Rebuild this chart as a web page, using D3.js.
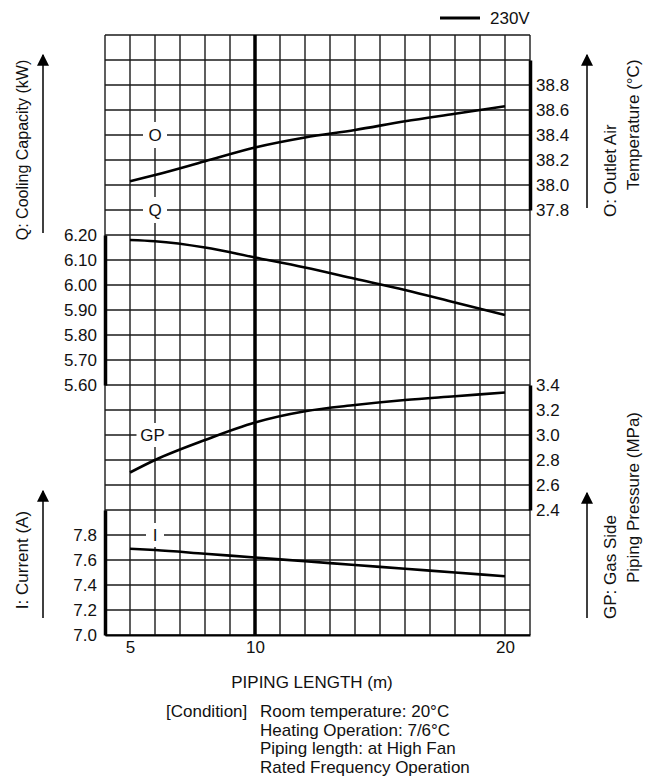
<!DOCTYPE html>
<html>
<head>
<meta charset="utf-8">
<script src="https://cdn.jsdelivr.net/npm/d3@7"></script>
<style>
  body { margin: 0; background: #fff; }
  svg text { font-family: "Liberation Sans", Arial, Helvetica, sans-serif; fill: #111; }
</style>
</head>
<body>
<div id="chart"></div>
<script>
// piping length (m) where the curves were read
var lengths = [5, 6, 8, 10, 12, 14, 16, 18, 20];
// O: outlet air temperature (degC)
var outletTemp = [38.03, 38.08, 38.19, 38.30, 38.38, 38.44, 38.51, 38.57, 38.63];
// Q: cooling capacity (kW)
var capacity = [6.18, 6.175, 6.15, 6.11, 6.07, 6.025, 5.98, 5.93, 5.88];
// GP: gas side piping pressure (MPa)
var gasPressure = [2.70, 2.80, 2.96, 3.10, 3.19, 3.24, 3.28, 3.31, 3.34];
// I: current (A)
var current = [7.69, 7.68, 7.65, 7.62, 7.59, 7.56, 7.53, 7.50, 7.47];

var xTicks = [5, 10, 20];
var oTicks = [37.8, 38.0, 38.2, 38.4, 38.6, 38.8];
var qTicks = [5.60, 5.70, 5.80, 5.90, 6.00, 6.10, 6.20];
var gpTicks = [2.4, 2.6, 2.8, 3.0, 3.2, 3.4];
var iTicks = [7.0, 7.2, 7.4, 7.6, 7.8];

var width = 660, height = 784;
var fontSize = 17;

var svg = d3.select("#chart")
    .append("svg")
    .attr("width", width)
    .attr("height", height);

// x: one grid column per metre, 4..21
var x = d3.scaleLinear().domain([4, 21]).range([105, 530]);
// grid rows: 24 rows of equal height
var row = d3.scaleLinear().domain([0, 24]).range([635, 35]);

var yO = d3.scaleLinear().domain([37.8, 39.0]).range([row(17), row(23)]);
var yQ = d3.scaleLinear().domain([5.60, 6.20]).range([row(10), row(16)]);
var yGP = d3.scaleLinear().domain([2.4, 3.4]).range([row(5), row(10)]);
var yI = d3.scaleLinear().domain([7.0, 8.0]).range([row(0), row(5)]);

// grid
var grid = svg.append("g").attr("stroke", "#1a1a1a").attr("stroke-width", 1.4);
grid.selectAll("line.v")
    .data(d3.range(4, 22))
    .enter().append("line")
    .attr("class", "v")
    .attr("x1", function (d) { return x(d); })
    .attr("x2", function (d) { return x(d); })
    .attr("y1", row(0))
    .attr("y2", row(24));
grid.selectAll("line.h")
    .data(d3.range(0, 25))
    .enter().append("line")
    .attr("class", "h")
    .attr("x1", x(4))
    .attr("x2", x(21))
    .attr("y1", function (d) { return row(d); })
    .attr("y2", function (d) { return row(d); });

// thick reference line at 10 m
svg.append("line")
    .attr("x1", x(10)).attr("x2", x(10))
    .attr("y1", row(0)).attr("y2", row(24))
    .attr("stroke", "#000").attr("stroke-width", 3.5);

// curve labels with white boxes breaking the grid
var curveLabels = [
    {text: "O", x: 6, y: yO(38.4), w: 24, h: 26},
    {text: "Q", x: 6, y: yO(37.8), w: 24, h: 26},
    {text: "GP", x: 5.9, y: yGP(3.0), w: 32, h: 24},
    {text: "I", x: 6, y: yI(7.8), w: 18, h: 24}
];
var lab = svg.selectAll(".clabel")
    .data(curveLabels)
    .enter().append("g")
    .attr("class", "clabel")
    .attr("transform", function (d) { return "translate(" + x(d.x) + "," + d.y + ")"; });
lab.append("rect")
    .attr("x", function (d) { return -d.w / 2; })
    .attr("y", function (d) { return -d.h / 2; })
    .attr("width", function (d) { return d.w; })
    .attr("height", function (d) { return d.h; })
    .attr("fill", "#fff");
lab.append("text")
    .attr("text-anchor", "middle")
    .attr("dy", "0.36em")
    .style("font-size", fontSize + "px")
    .text(function (d) { return d.text; });

// curves
var series = [
    {values: outletTemp, y: yO},
    {values: capacity, y: yQ},
    {values: gasPressure, y: yGP},
    {values: current, y: yI}
];
series.forEach(function (s) {
    var line = d3.line()
        .x(function (d, i) { return x(lengths[i]); })
        .y(function (d) { return s.y(d); })
        .curve(d3.curveMonotoneX);
    svg.append("path")
        .datum(s.values)
        .attr("d", line)
        .attr("fill", "none")
        .attr("stroke", "#000")
        .attr("stroke-width", 2.6);
});

// axes: domain path drawn as the thick bar
function styleAxis(g) {
    g.select(".domain").attr("stroke", "#000").attr("stroke-width", 3.5);
    g.selectAll("text").style("font-size", fontSize + "px").attr("fill", "#111");
}
svg.append("g")
    .attr("transform", "translate(" + x(4) + ",0)")
    .call(d3.axisLeft(yQ).tickValues(qTicks).tickSize(0).tickSizeOuter(0).tickPadding(8).tickFormat(d3.format(".2f")))
    .call(styleAxis);
svg.append("g")
    .attr("transform", "translate(" + x(4) + ",0)")
    .call(d3.axisLeft(yI).tickValues(iTicks).tickSize(0).tickSizeOuter(0).tickPadding(8).tickFormat(d3.format(".1f")))
    .call(styleAxis);
svg.append("g")
    .attr("transform", "translate(" + x(21) + ",0)")
    .call(d3.axisRight(yO).tickValues(oTicks).tickSize(0).tickSizeOuter(0).tickPadding(6).tickFormat(d3.format(".1f")))
    .call(styleAxis);
svg.append("g")
    .attr("transform", "translate(" + x(21) + ",0)")
    .call(d3.axisRight(yGP).tickValues(gpTicks).tickSize(0).tickSizeOuter(0).tickPadding(6).tickFormat(d3.format(".1f")))
    .call(styleAxis);
svg.append("g")
    .attr("transform", "translate(0," + row(0) + ")")
    .call(d3.axisBottom(x).tickValues(xTicks).tickSize(0).tickSizeOuter(0).tickPadding(6))
    .call(styleAxis)
    .call(function (g) { g.select(".domain").attr("stroke-width", 2); });

// arrows beside axis titles
svg.append("defs").append("marker")
    .attr("id", "arrow")
    .attr("viewBox", "0 0 10 10")
    .attr("refX", 9).attr("refY", 5)
    .attr("markerWidth", 12).attr("markerHeight", 12)
    .attr("markerUnits", "userSpaceOnUse")
    .attr("orient", "auto")
    .append("path")
    .attr("d", "M0,0L10,5L0,10Z")
    .attr("fill", "#000");

var arrows = [
    {x: 43, y1: 233, y2: 55},
    {x: 43, y1: 618, y2: 491},
    {x: 587, y1: 208, y2: 55},
    {x: 587, y1: 618, y2: 493}
];
svg.selectAll(".arrow")
    .data(arrows)
    .enter().append("line")
    .attr("class", "arrow")
    .attr("x1", function (d) { return d.x; })
    .attr("x2", function (d) { return d.x; })
    .attr("y1", function (d) { return d.y1; })
    .attr("y2", function (d) { return d.y2; })
    .attr("stroke", "#000")
    .attr("stroke-width", 1.5)
    .attr("marker-end", "url(#arrow)");

// rotated axis titles
var titles = [
    {text: "Q: Cooling Capacity (kW)", x: 22, y: 150, anchor: "middle", size: 16},
    {text: "I: Current (A)", x: 22, y: 560, anchor: "middle", size: 17},
    {text: "O: Outlet Air", x: 610, y: 217, anchor: "start", size: 17},
    {text: "Temperature (\u00B0C)", x: 633, y: 190, anchor: "start", size: 17},
    {text: "GP: Gas Side", x: 610, y: 619, anchor: "start", size: 17},
    {text: "Piping Pressure (MPa)", x: 633, y: 583, anchor: "start", size: 17}
];
svg.selectAll(".title")
    .data(titles)
    .enter().append("text")
    .attr("class", "title")
    .attr("transform", function (d) { return "translate(" + d.x + "," + d.y + ") rotate(-90)"; })
    .attr("text-anchor", function (d) { return d.anchor; })
    .attr("dy", "0.36em")
    .style("font-size", function (d) { return d.size + "px"; })
    .text(function (d) { return d.text; });

// legend
svg.append("line")
    .attr("x1", 440).attr("x2", 480)
    .attr("y1", 18).attr("y2", 18)
    .attr("stroke", "#000").attr("stroke-width", 3);
svg.append("text")
    .attr("x", 490).attr("y", 18)
    .attr("dy", "0.36em")
    .style("font-size", fontSize + "px")
    .text("230V");

// x axis title and conditions
svg.append("text")
    .attr("x", 312).attr("y", 688)
    .attr("text-anchor", "middle")
    .style("font-size", fontSize + "px")
    .text("PIPING LENGTH (m)");

var conditions = [
    "Room temperature: 20\u00B0C",
    "Heating Operation: 7/6\u00B0C",
    "Piping length: at High Fan",
    "Rated Frequency Operation"
];
svg.append("text")
    .attr("x", 166).attr("y", 717)
    .style("font-size", fontSize + "px")
    .text("[Condition]");
svg.selectAll(".cond")
    .data(conditions)
    .enter().append("text")
    .attr("class", "cond")
    .attr("x", 260)
    .attr("y", function (d, i) { return 717 + i * 18.5; })
    .style("font-size", fontSize + "px")
    .text(function (d) { return d; });
</script>
</body>
</html>
